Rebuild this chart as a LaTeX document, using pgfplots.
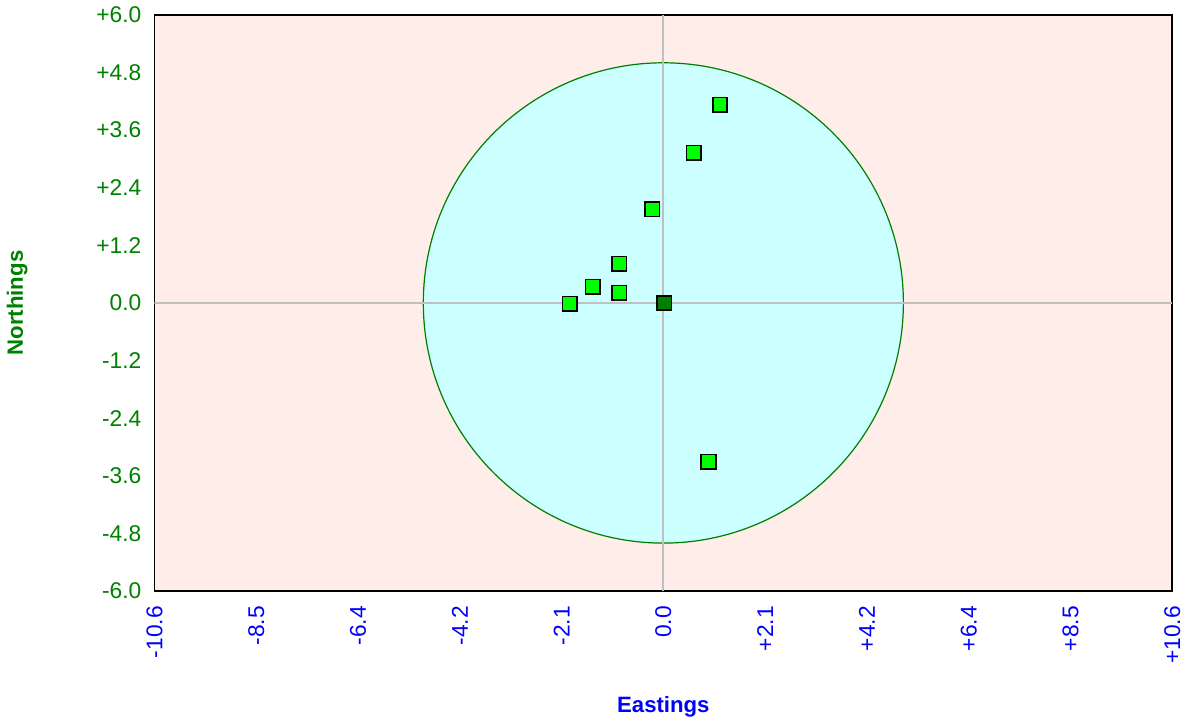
\documentclass[border=0pt]{standalone}
\usepackage{fontspec}
\setmainfont{Liberation Sans}
\usepackage{pgfplots}
\pgfplotsset{compat=1.18}
\definecolor{bgrose}{RGB}{255,237,233}
\definecolor{incirc}{RGB}{204,255,255}
\definecolor{dkgreen}{RGB}{0,128,0}
\definecolor{ltgreen}{RGB}{0,255,0}
\definecolor{zgrey}{RGB}{192,192,192}
\begin{document}
\begin{tikzpicture}
\begin{axis}[
    scale only axis,
    width=505pt, height=286pt,
    xmin=-10.6, xmax=10.6,
    ymin=-6, ymax=6,
    axis line style={black, line width=0.9pt},
    axis background/.style={fill=bgrose},
    major tick length=0pt,
    xtick={-10.6,-8.48,-6.36,-4.24,-2.12,0,2.12,4.24,6.36,8.48,10.6},
    xticklabels={-10.6,-8.5,-6.4,-4.2,-2.1,0.0,+2.1,+4.2,+6.4,+8.5,+10.6},
    ytick={-6,-4.8,-3.6,-2.4,-1.2,0,1.2,2.4,3.6,4.8,6},
    yticklabels={-6.0,-4.8,-3.6,-2.4,-1.2,0.0,+1.2,+2.4,+3.6,+4.8,+6.0},
    xticklabel style={font=\fontsize{11.3}{13}\selectfont, text=blue, rotate=90, anchor=east, xshift=-4pt},
    yticklabel style={font=\fontsize{11.3}{13}\selectfont, text=dkgreen, xshift=-3pt},
    xlabel={\textbf{Eastings}},
    ylabel={\textbf{Northings}},
    xlabel style={font=\fontsize{11}{13}\selectfont, text=blue, at={(axis description cs:0.5,-0.201)}, anchor=center},
    ylabel style={font=\fontsize{11}{13}\selectfont, text=dkgreen, at={(axis description cs:-0.135,0.5)}, anchor=center},
    clip=true,
]
% tolerance circle
\fill[incirc, draw=dkgreen, line width=0.6pt] (axis cs:0,0) circle [radius=5];
% zero lines
\addplot[zgrey, line width=1pt] coordinates {(-10.6,0) (10.6,0)};
\addplot[zgrey, line width=1pt] coordinates {(0,-6) (0,6)};
% observations
\addplot[only marks, mark=square*, mark size=3.6pt, mark options={fill=ltgreen, draw=black, line width=0.8pt}]
    coordinates {(1.18,4.13) (0.63,3.13) (-0.23,1.95) (-0.92,0.82) (-1.47,0.34) (-0.92,0.21) (-1.95,-0.02) (0.94,-3.31)};
% mean
\addplot[only marks, mark=square*, mark size=3.6pt, mark options={fill=dkgreen, draw=black, line width=0.8pt}]
    coordinates {(0.02,0.0)};
\end{axis}
\end{tikzpicture}
\end{document}
